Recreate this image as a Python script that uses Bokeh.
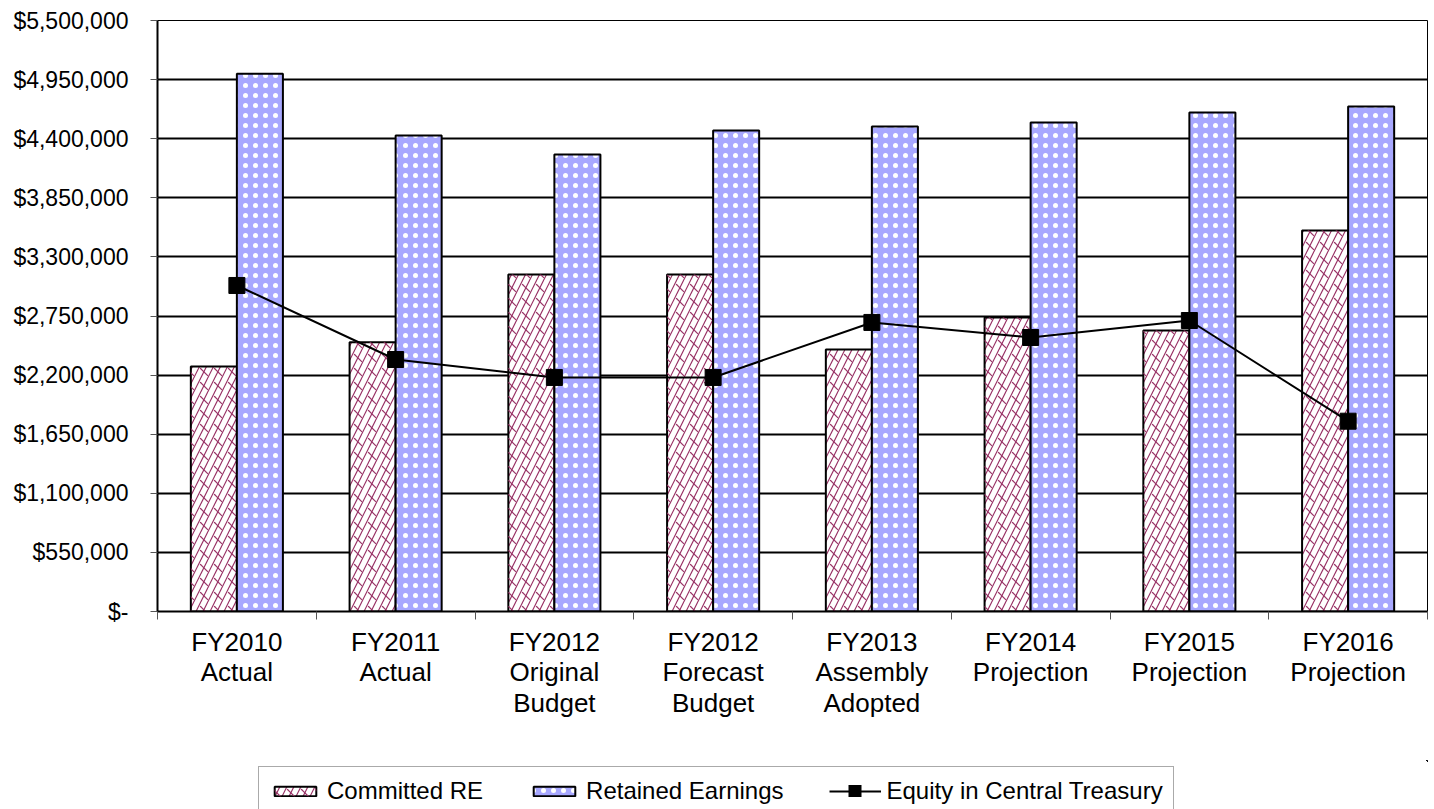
from bokeh.plotting import figure
from bokeh.layouts import column
from bokeh.models import Range1d, FixedTicker, Legend, LegendItem, ColumnDataSource
from bokeh.transform import dodge
from bokeh.embed import file_html
from bokeh.resources import INLINE

# ---------------- data ----------------
categories = ["FY2010\nActual", "FY2011\nActual", "FY2012\nOriginal\nBudget",
              "FY2012\nForecast\nBudget", "FY2013\nAssembly\nAdopted",
              "FY2014\nProjection", "FY2015\nProjection", "FY2016\nProjection"]
committed_re = [2280000, 2506000, 3136000, 3136000, 2438000, 2736000, 2615000, 3546000]
retained_earnings = [5004000, 4430000, 4253000, 4476000, 4514000, 4551000, 4644000, 4700000]
equity_treasury = [3034000, 2345000, 2178000, 2178000, 2690000, 2550000, 2708000, 1771000]
y_tick_values = [0, 550000, 1100000, 1650000, 2200000, 2750000, 3300000,
                 3850000, 4400000, 4950000, 5500000]
y_tick_labels = ["$-", "$550,000", "$1,100,000", "$1,650,000", "$2,200,000",
                 "$2,750,000", "$3,300,000", "$3,850,000", "$4,400,000",
                 "$4,950,000", "$5,500,000"]
series_labels = ["Committed RE", "Retained Earnings", "Equity in Central Treasury"]

n = len(categories)
centers = list(range(n))
boundaries = [i - 0.5 for i in range(n + 1)]

src = ColumnDataSource(dict(x=centers, committed=committed_re,
                            retained=retained_earnings, equity=equity_treasury))

COMM = dict(fill_color="white", hatch_pattern="/", hatch_color="#993366",
            hatch_scale=14, hatch_weight=1.2, line_color="black", line_width=2)
COMM2 = dict(fill_alpha=0, line_color=None, hatch_pattern="`",
             hatch_color="#993366", hatch_scale=14, hatch_weight=1.2)
RET = dict(fill_color="#a8a8ff", hatch_pattern=".", hatch_color="white",
           hatch_scale=10, hatch_weight=5, line_color="black", line_width=2)
LINE = dict(line_color="black", line_width=2)
MARK = dict(marker="square", size=16, fill_color="black", line_color="black")

p = figure(width=1428, height=760, output_backend="svg", toolbar_location=None,
           x_range=Range1d(-0.5, n - 0.5), y_range=Range1d(0, 5500000),
           min_border_left=157, min_border_right=1, min_border_top=20,
           min_border_bottom=149)
p.outline_line_color = "black"
p.outline_line_width = 1

p.vbar(x=dodge("x", -0.145, range=p.x_range), top="committed", bottom=0,
       width=0.29, source=src, **COMM)
p.vbar(x=dodge("x", -0.145, range=p.x_range), top="committed", bottom=0,
       width=0.29, source=src, **COMM2)
p.vbar(x=dodge("x", 0.145, range=p.x_range), top="retained", bottom=0,
       width=0.29, source=src, **RET)
p.line(x="x", y="equity", source=src, **LINE)
p.scatter(x="x", y="equity", source=src, **MARK)

# grid
p.xgrid.visible = False
p.ygrid.ticker = FixedTicker(ticks=y_tick_values)
p.ygrid.grid_line_color = "black"
p.ygrid.grid_line_width = 2

# y axis
p.yaxis.ticker = FixedTicker(ticks=y_tick_values)
p.yaxis.major_label_overrides = dict(zip(y_tick_values, y_tick_labels))
p.yaxis.major_label_text_font = "Liberation Sans"
p.yaxis.major_label_text_font_size = "23px"
p.yaxis.major_label_text_color = "black"
p.yaxis.major_tick_out = 7
p.yaxis.major_tick_in = 0
p.yaxis.major_tick_line_color = "#555555"
p.yaxis.minor_tick_line_color = None
p.yaxis.axis_line_color = "black"
p.yaxis.axis_line_width = 2
p.yaxis.major_label_standoff = 22

# x axis
p.xaxis.ticker = FixedTicker(ticks=centers, minor_ticks=boundaries)
p.xaxis.major_label_overrides = dict(zip(centers, categories))
p.xaxis.major_label_text_font = "Liberation Sans"
p.xaxis.major_label_text_font_size = "26px"
p.xaxis.major_label_text_line_height = 1.02
p.xaxis.major_label_text_color = "black"
p.xaxis.major_tick_line_color = None
p.xaxis.minor_tick_out = 8
p.xaxis.minor_tick_in = 0
p.xaxis.minor_tick_line_color = "#555555"
p.xaxis.axis_line_color = "black"
p.xaxis.axis_line_width = 2
p.xaxis.major_label_standoff = 7

# ---------------- legend strip ----------------
# the same series drawn into a strip whose ranges keep them just out of view,
# so that the legend there shows the proper swatches
lg = figure(width=1428, height=49, output_backend="svg", toolbar_location=None,
            x_range=Range1d(-3, -2), y_range=Range1d(-6000000, -5000000),
            x_axis_location=None, y_axis_location=None,
            min_border_left=0, min_border_right=0, min_border_top=0,
            min_border_bottom=0)
lg.outline_line_color = None
lg.grid.visible = False
d1 = lg.vbar(x="x", top="committed", bottom=0, width=0.29, source=src, **COMM)
d1b = lg.vbar(x="x", top="committed", bottom=0, width=0.29, source=src, **COMM2)
d2 = lg.vbar(x="x", top="retained", bottom=0, width=0.29, source=src, **RET)
d3 = lg.line(x="x", y="equity", source=src, **LINE)
# thick dashed copy whose single dash forms the square marker in the legend
d4 = lg.line(x="x", y="equity", source=src, line_color="black", line_width=13,
             line_dash="0 19 13 20", line_cap="butt")

legend = Legend(items=[
    LegendItem(label=series_labels[0], renderers=[d1, d1b], index=0),
    LegendItem(label=series_labels[1], renderers=[d2], index=0),
    LegendItem(label=series_labels[2], renderers=[d3, d4], index=0),
], orientation="horizontal", location=(101, -7))
legend.label_text_font = "Liberation Sans"
legend.label_text_font_size = "24px"
legend.label_text_color = "black"
legend.glyph_width = 52
legend.glyph_height = 12
legend.label_standoff = 6
legend.spacing = 45
legend.padding = 10
legend.margin = 0
legend.border_line_color = "#555555"
legend.border_line_width = 1
legend.background_fill_alpha = 1
lg.add_layout(legend)

open("out.html", "w").write(file_html(column(p, lg, spacing=0), INLINE))
